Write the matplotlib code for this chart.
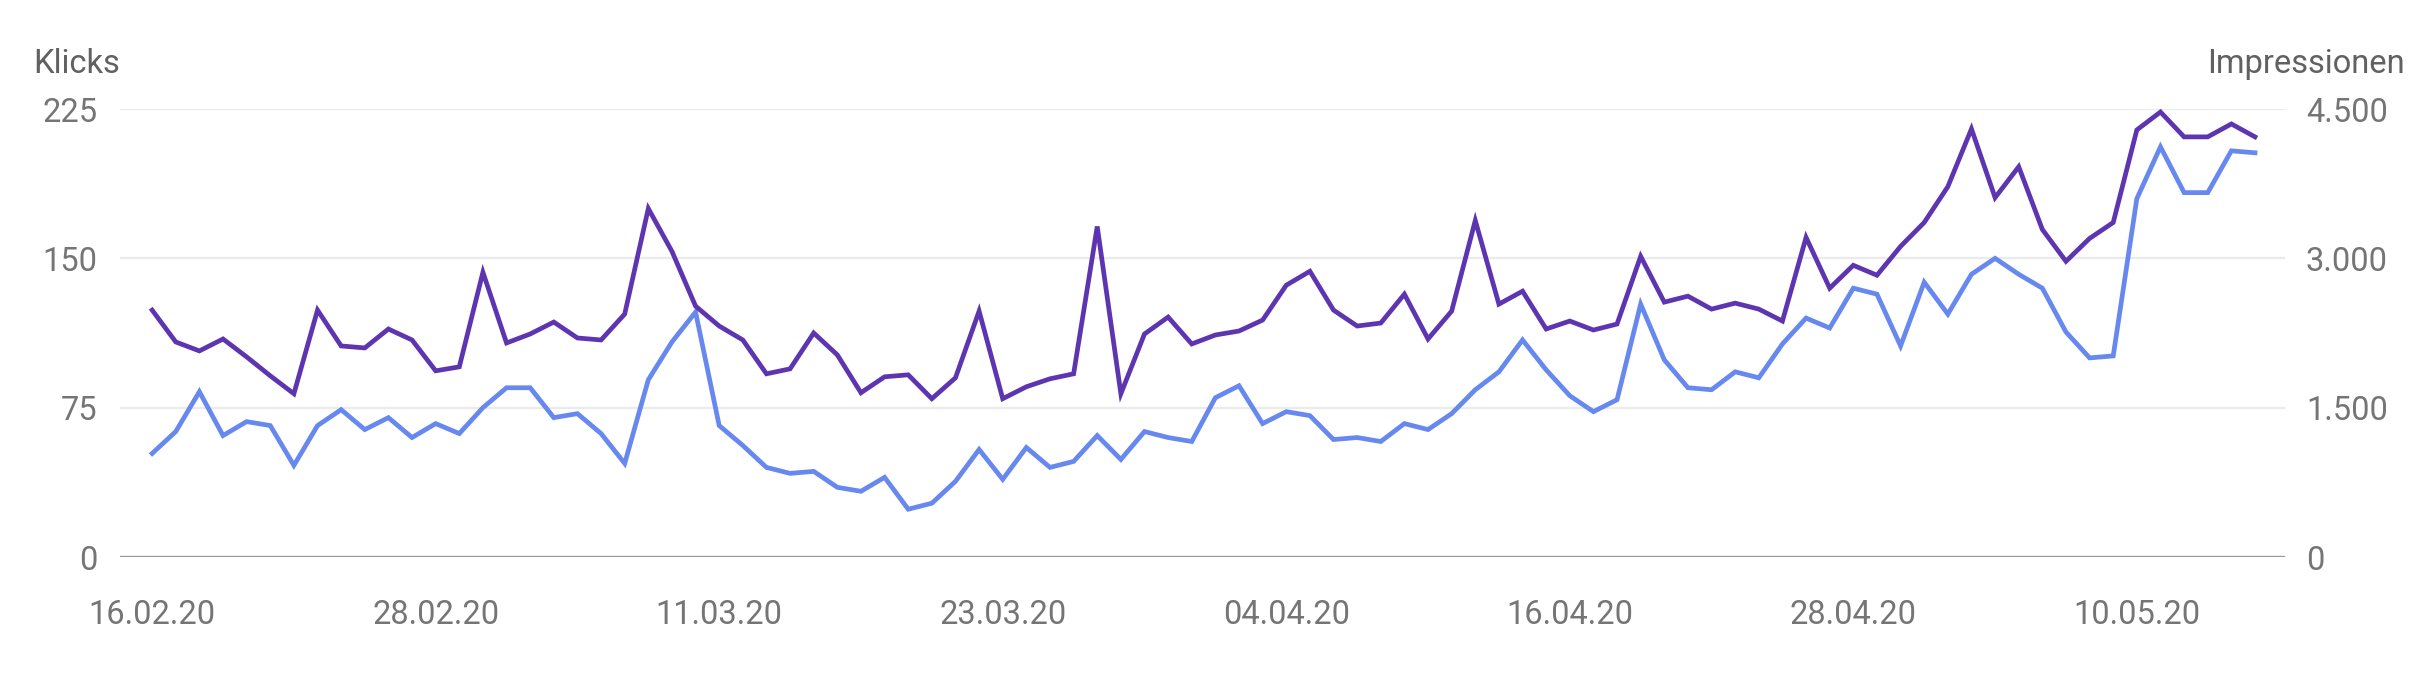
import matplotlib.pyplot as plt
import matplotlib.dates as mdates
import pandas as pd

plt.rcParams['font.family'] = ['Roboto', 'DejaVu Sans']

# Tageswerte 16.02.20 - 15.05.20
dates = pd.date_range('2020-02-16', '2020-05-15', freq='D')

klicks = [52, 63, 83, 61, 68, 66, 46, 66, 74, 64, 70, 60, 67, 62, 75, 85, 85, 70, 72, 62,
          47, 89, 108, 123, 66, 56, 45, 42, 43, 35, 33, 40, 24, 27, 38, 54, 39, 55, 45, 48,
          61, 49, 63, 60, 58, 80, 86, 67, 73, 71, 59, 60, 58, 67, 64, 72, 84, 93, 109, 94,
          81, 73, 79, 127, 99, 85, 84, 93, 90, 107, 120, 115, 135, 132, 106, 138, 122, 142, 150, 142,
          135, 113, 100, 101, 180, 206, 183, 183, 204, 203]

impressionen = [2480, 2160, 2070, 2190, 2010, 1820, 1640, 2480, 2120, 2100, 2290, 2180, 1870, 1910, 2860, 2150, 2240, 2360, 2200, 2180,
                2440, 3500, 3070, 2520, 2320, 2180, 1840, 1890, 2250, 2030, 1650, 1810, 1830, 1590, 1800, 2470, 1590, 1710, 1790, 1840,
                3320, 1640, 2240, 2410, 2140, 2230, 2270, 2380, 2730, 2870, 2480, 2320, 2350, 2640, 2190, 2470, 3380, 2540, 2670, 2290,
                2370, 2280, 2340, 3020, 2560, 2620, 2490, 2550, 2490, 2370, 3210, 2700, 2930, 2830, 3120, 3360, 3720, 4300, 3610, 3920,
                3290, 2970, 3200, 3360, 4290, 4470, 4220, 4220, 4350, 4220]

fig = plt.figure(figsize=(24.27, 6.82), dpi=100)
ax = fig.add_axes([120 / 2427, 1 - 557 / 682, (2285 - 120) / 2427, (557 - 109) / 682])
ax2 = ax.twinx()

ax.plot(dates, klicks, color='#6688ef', lw=3.4, zorder=3, solid_joinstyle='miter')
ax2.plot(dates, impressionen, color='#5e35b1', lw=3.4, zorder=3, solid_joinstyle='miter')

ax.set_ylim(0, 225)
ax2.set_ylim(0, 4500)
ax.set_yticks([0, 75, 150, 225])
ax2.set_yticks([0, 1500, 3000, 4500])
ax2.set_yticklabels(['0', '1.500', '3.000', '4.500'])

ax.set_xlim(dates[0] - pd.Timedelta(days=1.36), dates[-1] + pd.Timedelta(days=1.27))
ticks = pd.date_range('2020-02-16', '2020-05-10', freq='12D')
ax.set_xticks(ticks)
ax.xaxis.set_major_formatter(mdates.DateFormatter('%d.%m.%y'))

for y in [75, 150, 225]:
    ax.axhline(y, color='#ebebeb', lw=1.6, zorder=0)
ax.axhline(0, color='#9a9a9a', lw=2.4, zorder=1)

ax.set_zorder(ax2.get_zorder() - 1)
ax.patch.set_visible(False)
for a in (ax, ax2):
    for s in a.spines.values():
        s.set_visible(False)
    a.tick_params(length=0, labelsize=23.5, labelcolor='#757575')
ax.tick_params(axis='y', pad=16)
ax2.tick_params(axis='y', pad=15)
ax.tick_params(axis='x', pad=30)

fig.text(33 / 2427, 1 - 64 / 682, 'Klicks', fontsize=23.5, color='#616161', va='center', ha='left')
fig.text(2405 / 2427, 1 - 64 / 682, 'Impressionen', fontsize=23.5, color='#616161', va='center', ha='right')

fig.savefig('out.png', dpi=100)
